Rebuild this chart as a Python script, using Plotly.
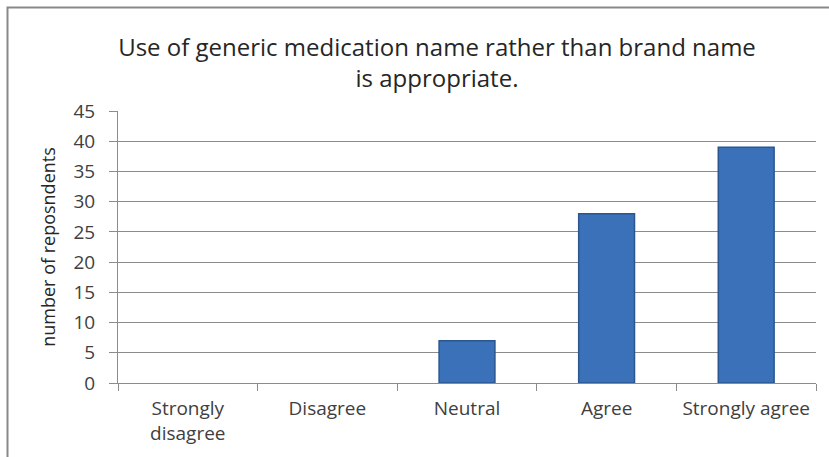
import plotly.graph_objects as go

categories = ["Strongly<br>disagree", "Disagree", "Neutral", "Agree", "Strongly agree"]
values = [0, 0, 7, 28, 39]
y_ticks = [0, 5, 10, 15, 20, 25, 30, 35, 40, 45]
title_text = "Use of generic medication name rather than brand name<br>is appropriate."
y_title = "number of reposndents"

FONT = "Open Sans"
GRID = "#8c8c8c"
TXT = "#404040"

fig = go.Figure()
fig.add_trace(go.Bar(
    x=categories, y=values, width=0.4,
    marker=dict(color="#3a71b9",
                line=dict(color="#2b5690", width=[1.5 if v > 0 else 0 for v in values])),
))

fig.update_layout(
    width=829, height=457,
    margin=dict(l=118, r=13, t=111, b=74),
    paper_bgcolor="white", plot_bgcolor="white",
    showlegend=False,
    font=dict(family=FONT, color=TXT),
    title=dict(text=title_text, x=437/829, xanchor="center", y=1-56/457, yanchor="top",
               font=dict(family=FONT, size=24, color="#262626")),
    xaxis=dict(
        type="category", tickson="boundaries", ticks="outside", ticklen=7, tickcolor=GRID,
        showline=True, linecolor=GRID, linewidth=1, showgrid=False,
        tickfont=dict(family=FONT, size=19, color=TXT), ticklabelstandoff=8,
    ),
    yaxis=dict(
        range=[0, 45], tickvals=y_ticks, ticks="outside", ticklen=8, tickcolor=GRID,
        showline=True, linecolor=GRID, linewidth=1,
        showgrid=True, gridcolor=GRID, gridwidth=1, zeroline=False,
        tickfont=dict(family=FONT, size=19, color=TXT), ticklabelstandoff=10,
        title=dict(text=y_title, font=dict(family=FONT, size=18, color="#262626"), standoff=13),
    ),
    shapes=[dict(type="rect", xref="paper", yref="paper",
                 x0=(7.5-118)/698, x1=(840-118)/698, y0=(383-470)/272, y1=(383-7.5)/272,
                 line=dict(color="#898989", width=2), layer="below")],
)

fig.write_html("out.html", config={"displayModeBar": False},
               post_script="document.body.style.margin='0';")
